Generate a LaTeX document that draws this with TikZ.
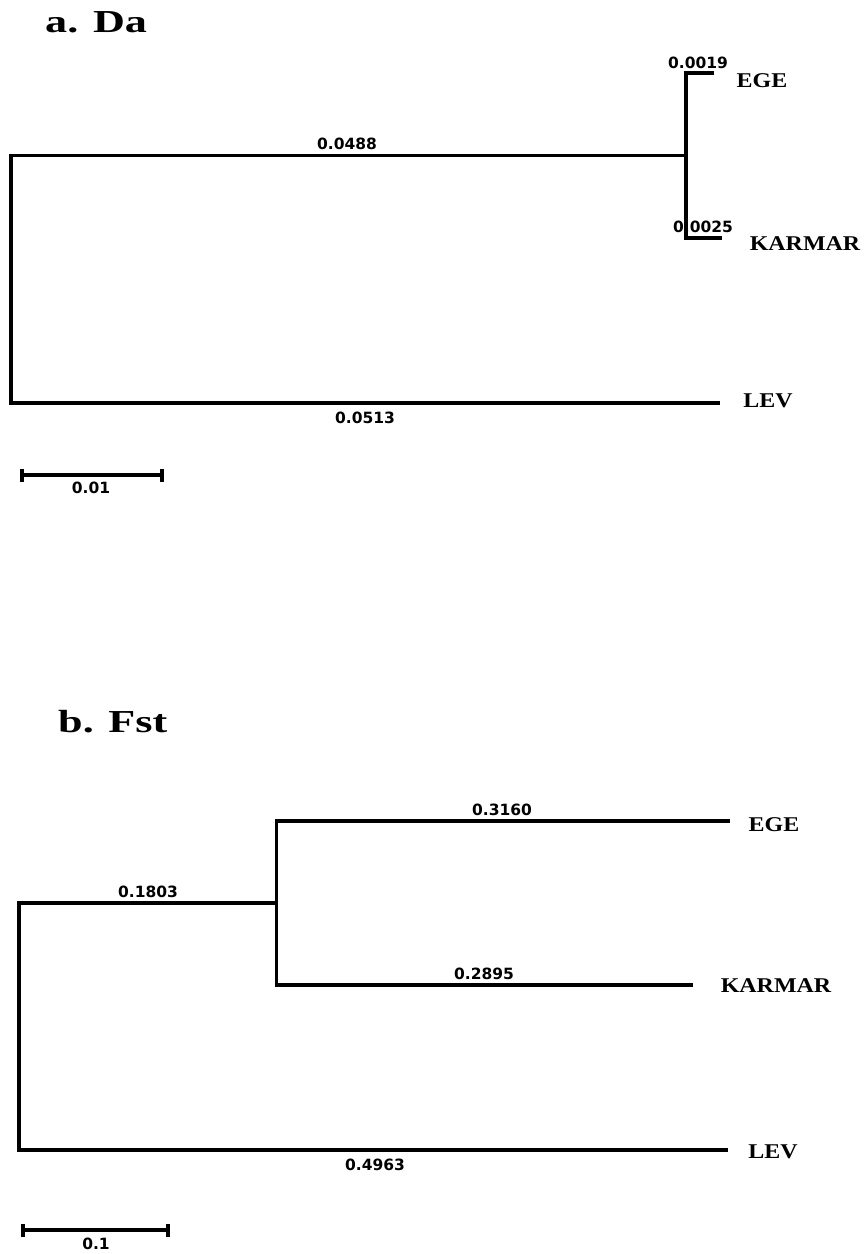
\documentclass[tikz,border=0pt]{standalone}
\usepackage{fontspec}
\newfontfamily\numfont{DejaVu Sans}
\newfontfamily\taxfont[FakeStretch=1.14]{Liberation Serif}
\newfontfamily\titfont[FakeStretch=1.38]{Liberation Serif}
\begin{document}
\begin{tikzpicture}[x=1pt,y=-1pt,
  branch/.style={line width=3.2pt, line join=miter},
  scalebar/.style={line width=3.2pt},
  num/.style={inner sep=0pt, font=\numfont\bfseries\fontsize{15.5}{15.5}\selectfont},
  taxon/.style={inner sep=0pt, font=\taxfont\bfseries\fontsize{21}{21}\selectfont},
  paneltitle/.style={inner sep=0pt, anchor=base west, font=\titfont\bfseries\fontsize{32}{32}\selectfont}]
\useasboundingbox (0,0) rectangle (867,1254);
\fill[white] (0,0) rectangle (867,1254);

% ---------- panel a ----------
\node[paneltitle] (ta) at (45,32) {a. Da};
\coordinate (rA) at (11,155.5);
\coordinate (nA) at (686,155.5);
\coordinate (eA) at (714,73);
\coordinate (kA) at (722,238);
\coordinate (lA) at (720,403);
\draw[branch] (nA) -- (rA) |- (lA);
\draw[branch] (eA) -| (nA) |- (kA);
\node[num] (b1) at (347,143.5) {0.0488};
\node[num] (b2) at (365,417.5) {0.0513};
\node[num] (b3) at (698,62.5) {0.0019};
\node[num] (b4) at (703,227) {0.0025};
\node[taxon] (egeA) at (762,81) {EGE};
\node[taxon] (karA) at (805,244) {KARMAR};
\node[taxon] (levA) at (768,401) {LEV};
\coordinate (sa1) at (22,475);
\coordinate (sa2) at (162,475);
\draw[scalebar] (sa1) -- (sa2);
\draw[scalebar] ([yshift=-6.5pt]sa1) -- ([yshift=6.5pt]sa1);
\draw[scalebar] ([yshift=-6.5pt]sa2) -- ([yshift=6.5pt]sa2);
\node[num] (sla) at (91,488) {0.01};

% ---------- panel b ----------
\node[paneltitle] (tb) at (58,732) {b. Fst};
\coordinate (rB) at (19,903);
\coordinate (nB) at (276.5,903);
\coordinate (eB) at (730,821);
\coordinate (kB) at (693,985);
\coordinate (lB) at (728,1150);
\draw[branch] (nB) -- (rB) |- (lB);
\draw[branch] (eB) -| (nB) |- (kB);
\node[num] (c1) at (148,891.5) {0.1803};
\node[num] (c2) at (502,809.5) {0.3160};
\node[num] (c3) at (484,974) {0.2895};
\node[num] (c4) at (375,1165) {0.4963};
\node[taxon] (egeB) at (774,824.5) {EGE};
\node[taxon] (karB) at (776,986) {KARMAR};
\node[taxon] (levB) at (773,1152) {LEV};
\coordinate (sb1) at (23,1230);
\coordinate (sb2) at (168,1230);
\draw[scalebar] (sb1) -- (sb2);
\draw[scalebar] ([yshift=-6.5pt]sb1) -- ([yshift=6.5pt]sb1);
\draw[scalebar] ([yshift=-6.5pt]sb2) -- ([yshift=6.5pt]sb2);
\node[num] (slb) at (96,1244) {0.1};
\end{tikzpicture}
\end{document}
